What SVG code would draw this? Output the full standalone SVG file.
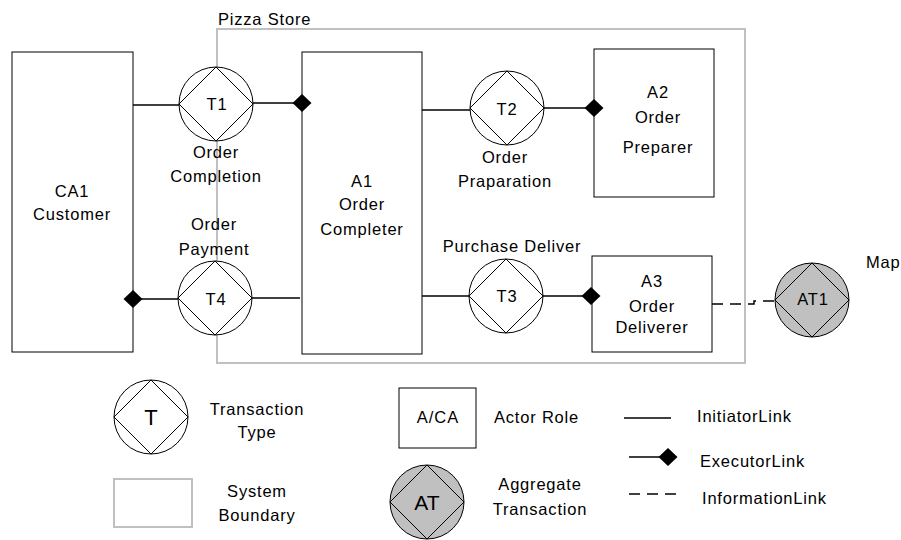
<svg xmlns="http://www.w3.org/2000/svg" width="901" height="540" viewBox="0 0 901 540">
<style>
text{font-family:"Liberation Sans",Arial,sans-serif;font-size:16.5px;letter-spacing:0.8px;fill:#000}
.c{text-anchor:middle}
.box{fill:#fff;stroke:#000;stroke-width:1}
.tx{fill:#fff;stroke:#000;stroke-width:1}
.atx{fill:#c0c0c0;stroke:#000;stroke-width:1}
.dia{fill:none;stroke:#000;stroke-width:1}
.bnd{fill:none;stroke:#c0c0c0;stroke-width:2}
.ln{fill:none;stroke:#000;stroke-width:1.5}
.ex{marker-end:url(#exec)}
.dash{stroke-dasharray:11,7}
</style>
<defs>
<marker id="exec" viewBox="-10 -10 20 20" markerWidth="20" markerHeight="20" refX="0" refY="0" markerUnits="userSpaceOnUse" orient="auto"><path d="M-9.5,0 L0,-9 L9.5,0 L0,9 Z" fill="#000"/></marker>
</defs>

<g id="boundary">
<rect class="bnd" x="217" y="29" width="528" height="334"/>
<text x="218" y="25">Pizza Store</text>
</g>

<g id="CA1">
<rect class="box" x="12" y="52" width="121" height="300"/>
<text class="c" x="72" y="197">CA1</text>
<text class="c" x="72" y="220">Customer</text>
</g>

<g id="A1">
<rect class="box" x="302" y="52" width="120" height="302"/>
<text class="c" x="362" y="187">A1</text>
<text class="c" x="362" y="210">Order</text>
<text class="c" x="362" y="235">Completer</text>
</g>

<g id="A2">
<rect class="box" x="594" y="49" width="120" height="148"/>
<text class="c" x="658" y="98">A2</text>
<text class="c" x="658" y="123">Order</text>
<text class="c" x="658" y="153">Preparer</text>
</g>

<g id="A3">
<rect class="box" x="592" y="256" width="120" height="96"/>
<text class="c" x="652" y="287">A3</text>
<text class="c" x="652" y="312">Order</text>
<text class="c" x="652" y="333">Deliverer</text>
</g>

<g id="T1">
<circle class="tx" cx="216" cy="104" r="37"/>
<path class="dia" d="M216,67 L253,104 L216,141 L179,104 Z"/>
<text class="c" x="217" y="110">T1</text>
<text class="c" x="216" y="158">Order</text>
<text class="c" x="216" y="182">Completion</text>
</g>

<g id="T2">
<circle class="tx" cx="507" cy="108" r="37"/>
<path class="dia" d="M507,71 L544,108 L507,145 L470,108 Z"/>
<text class="c" x="507" y="115">T2</text>
<text class="c" x="505" y="163">Order</text>
<text class="c" x="505" y="187">Praparation</text>
</g>

<g id="T3">
<circle class="tx" cx="506" cy="296" r="37"/>
<path class="dia" d="M506,259 L543,296 L506,333 L469,296 Z"/>
<text class="c" x="507" y="302">T3</text>
<text class="c" x="512" y="252">Purchase Deliver</text>
</g>

<g id="T4">
<circle class="tx" cx="215" cy="298" r="37"/>
<path class="dia" d="M215,261 L252,298 L215,335 L178,298 Z"/>
<text class="c" x="216" y="305">T4</text>
<text class="c" x="214" y="230">Order</text>
<text class="c" x="214" y="255">Payment</text>
</g>

<g id="AT1">
<circle class="atx" cx="812" cy="300" r="37"/>
<path class="dia" d="M812,263 L849,300 L812,337 L775,300 Z"/>
<text class="c" x="813" y="305">AT1</text>
<text x="866" y="268">Map</text>
</g>

<g id="legend">
<circle class="tx" cx="151" cy="417" r="37"/>
<path class="dia" d="M151,380 L188,417 L151,454 L114,417 Z"/>
<text class="c" x="151" y="425" style="font-size:22px;letter-spacing:0">T</text>
<text class="c" x="257" y="415">Transaction</text>
<text class="c" x="257" y="438">Type</text>

<rect class="bnd" x="114" y="479" width="78" height="48"/>
<text class="c" x="257" y="497">System</text>
<text class="c" x="257" y="521">Boundary</text>

<rect class="box" x="399" y="388" width="77" height="60"/>
<text class="c" x="438" y="423" style="letter-spacing:1px">A/CA</text>
<text x="494" y="423">Actor Role</text>

<circle class="atx" cx="427" cy="502" r="37"/>
<path class="dia" d="M427,465 L464,502 L427,539 L390,502 Z"/>
<text class="c" x="427" y="510" style="font-size:21px;letter-spacing:0">AT</text>
<text class="c" x="540" y="490">Aggregate</text>
<text class="c" x="540" y="515">Transaction</text>

<path class="ln" d="M624,418 H671"/>
<text x="697" y="422">InitiatorLink</text>
<path class="ln ex" d="M629,457 H668"/>
<text x="700" y="467">ExecutorLink</text>
<path class="ln dash" d="M629,494 H676"/>
<text x="702" y="504">InformationLink</text>
</g>

<g id="connectors">
<path class="ln" d="M133,105 H179"/>
<path class="ln ex" d="M253,103 H302"/>
<path class="ln" d="M422,110 H470"/>
<path class="ln ex" d="M544,108 H594"/>
<path class="ln" d="M422,296 H469"/>
<path class="ln ex" d="M543,296 H591"/>
<path class="ln ex" d="M178,299 H133"/>
<path class="ln" d="M252,298 H300"/>
<path class="ln dash" d="M712,304 H754 V301 H775"/>
</g>
</svg>
